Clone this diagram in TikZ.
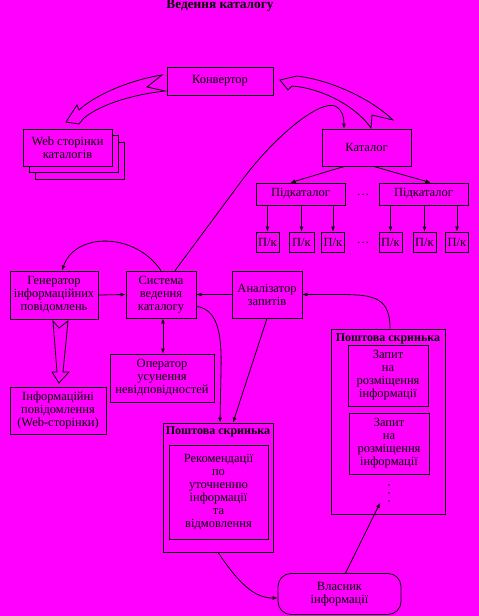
\documentclass[tikz,border=0pt]{standalone}
\usepackage{fontspec}
\setmainfont{Liberation Serif}
\usetikzlibrary{arrows.meta,calc}
\definecolor{bg}{RGB}{255,0,255}
\begin{document}
\begin{tikzpicture}[x=1pt,y=-1pt,font=\fontsize{12.5}{13}\selectfont,
  box/.style={draw,line width=0.8pt,inner sep=0pt,align=center,fill=bg},
  plain/.style={inner sep=0pt,align=center},
  boldtext/.style={inner sep=0pt,font=\bfseries\fontsize{12}{13}\selectfont},
  titletext/.style={inner sep=0pt,font=\bfseries\fontsize{13.3}{14}\selectfont},
  arr/.style={-{Latex[length=5pt,width=4pt]},line width=0.8pt},
  dblarr/.style={{Latex[length=5pt,width=4pt]}-{Latex[length=5pt,width=4pt]},line width=0.8pt},
  blk/.style={draw,line width=0.8pt,fill=bg,line join=miter}]
\fill[bg] (0,0) rectangle (479,616);
\useasboundingbox (0,0) rectangle (479,616);

% title
\node[titletext] (title) at (220,6) {Ведення каталогу};

% converter
\node[box,minimum width=106pt,minimum height=28pt] (conv) at (220,81) {Конвертор};

% web pages stack
\node[box,minimum width=89pt,minimum height=37pt] (web3) at (79.5,160.5) {};
\node[box,minimum width=89pt,minimum height=37pt] (web2) at (73.5,154) {};
\node[box,minimum width=89pt,minimum height=37pt] (web) at (67.5,147.5) {Web сторінки\\каталогів};

% catalogue
\node[box,minimum width=89pt,minimum height=37pt] (cat) at (366.5,147.5) {Каталог};
\node[box,minimum width=89pt,minimum height=22pt] (sub1) at (300.5,194) {Підкаталог};
\node[box,minimum width=89pt,minimum height=22pt] (sub2) at (423.5,194) {Підкаталог};
\node[plain] (dots1) at (363,195) {…};

\node[box,minimum width=23pt,minimum height=20pt] (pk1) at (267.5,242) {П/к};
\node[box,minimum width=25pt,minimum height=20pt] (pk2) at (301.5,242) {П/к};
\node[box,minimum width=23pt,minimum height=20pt] (pk3) at (333,242) {П/к};
\node[box,minimum width=23pt,minimum height=20pt] (pk4) at (390.5,242) {П/к};
\node[box,minimum width=23pt,minimum height=20pt] (pk5) at (424.5,242) {П/к};
\node[box,minimum width=23pt,minimum height=20pt] (pk6) at (457,242) {П/к};
\node[plain] (dots2) at (363,243) {…};

% middle row
\node[box,minimum width=88pt,minimum height=48pt] (gen) at (54,295) {Генератор\\інформаційних\\повідомлень};
\node[box,minimum width=70pt,minimum height=47pt] (sys) at (161,294.5) {Система\\ведення\\каталогу};
\node[box,minimum width=70pt,minimum height=47pt] (anal) at (267,294.5) {Аналізатор\\запитів};
\node[box,minimum width=104pt,minimum height=48pt] (oper) at (162,378) {Оператор\\усунення\\невідповідностей};
\node[box,minimum width=96pt,minimum height=47pt] (info) at (58,410.5) {Інформаційні\\повідомлення\\(Web-сторінки)};

% mailbox 1
\node[box,minimum width=110pt,minimum height=129pt] (mb1) at (218,487.5) {};
\node[boldtext] (mb1t) at (218,432) {Поштова скринька};
\node[box,minimum width=99pt,minimum height=94pt] (mb1in) at (218.5,492) {Рекомендації\\по\\уточненню\\інформації\\та\\відмовлення};

% mailbox 2
\node[box,minimum width=114pt,minimum height=185pt] (mb2) at (388,421.5) {};
\node[boldtext] (mb2t) at (388,339) {Поштова скринька};
\node[box,minimum width=80pt,minimum height=61pt] (req1) at (388,375.5) {Запит\\на\\розміщення\\інформації};
\node[box,minimum width=80pt,minimum height=61pt] (req2) at (389,443.5) {Запит\\на\\розміщення\\інформації};
\fill (389,485) circle (0.9pt) (389,493) circle (0.9pt) (389,501) circle (0.9pt);
\coordinate (mbin) at (380,503);

% owner
\node[box,rounded corners=13pt,minimum width=123pt,minimum height=41pt] (owner) at (339.5,594) {Власник\\інформації};

% block arrows
\draw[blk] (162,75) .. controls (130,80) and (95,95) .. (79,110) -- (77,105) -- (66,122) -- (79,124) -- (84,118)
  .. controls (100,105) and (130,95) .. (165,91) -- (147,87) -- cycle;
\draw[blk] (280,80) -- (297,76) .. controls (330,80) and (370,98) .. (393,120) -- (372,115) -- (371,128)
  .. controls (355,105) and (320,88) .. (292,86) -- (288,90) -- cycle;
\draw[blk] (53,321) -- (59,328) -- (68,321) -- (63,372) -- (69,372) -- (59,383) -- (52,372) -- (57,372) -- cycle;

% connectors
\draw[arr] ($(cat.south)+(-22,0)$) -- ($(sub1.north)+(-10,0)$);
\draw[arr] ($(cat.south)+(7,0)$) -- ($(sub2.north)+(7,0)$);
\foreach \p/\s in {pk1/sub1,pk2/sub1,pk3/sub1,pk4/sub2,pk5/sub2,pk6/sub2}
  \draw[arr] (\p.north |- \s.south) -- (\p.north);

\draw[arr] ($(sys.north)+(14,0)$) -- (240,183) .. controls (275,135) and (320,100) .. (335,106)
  .. controls (343,110) and (344,118) .. ($(cat.north)+(-22.5,0)$);
\draw[arr] (sys.north) .. controls (135,232) and (75,232) .. ($(gen.north)+(8,0)$);
\draw[arr] (gen.east) -- (sys.west);
\draw[arr] (anal.west) -- (sys.east);
\draw[arr] (mb2.north) ++(2,0) .. controls (390,298) and (375,294.5) .. (340,294.5) -- (anal.east);
\draw[dblarr] ($(sys.south)+(2,0)$) -- ($(oper.north)+(1,0)$);
\draw[arr] ($(sys.east)+(1,12)$) .. controls (218,310) and (222,335) .. (221,370) -- ($(mb1.north)+(2,0)$);
\draw[arr] (anal.south) -- ($(mb1.north)+(15,0)$);
\draw[arr] (mb1.south) .. controls (240,585) and (255,598) .. ($(owner.west)+(0,4)$);
\draw[arr] ($(owner.north)+(6,0)$) -- (mbin);
\end{tikzpicture}
\end{document}
